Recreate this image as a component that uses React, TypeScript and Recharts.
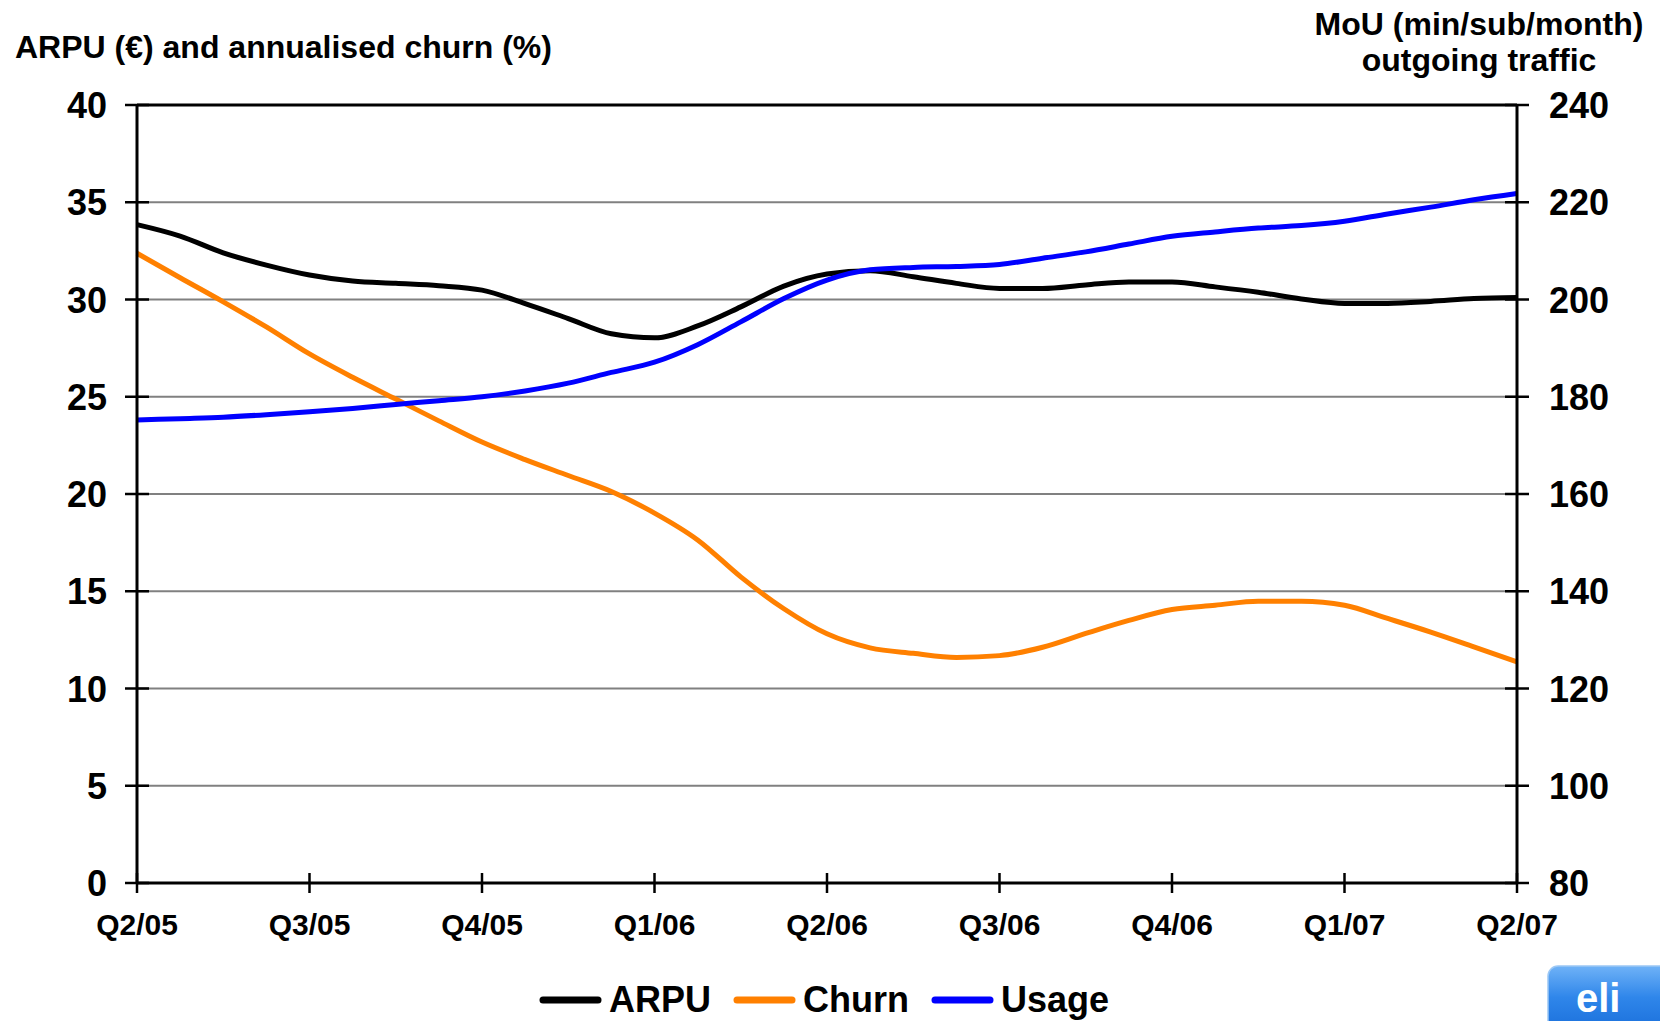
import React from 'react';
import { LineChart, Line, XAxis, YAxis, CartesianGrid, ReferenceLine } from 'recharts';

// Quarter labels on the time axis
const quarters = ['Q2/05', 'Q3/05', 'Q4/05', 'Q1/06', 'Q2/06', 'Q3/06', 'Q4/06', 'Q1/07', 'Q2/07'];

// Four readings per quarter, from Q2/05 up to Q2/07
const arpu = [
  33.85, 33.26, 32.4, 31.77, 31.26, 30.95, 30.83, 30.71, 30.48, 29.79, 29.02, 28.24,
  28.03, 28.64, 29.62, 30.69, 31.31, 31.48, 31.17, 30.83, 30.57, 30.57, 30.75, 30.9,
  30.9, 30.65, 30.37, 30.03, 29.8, 29.8, 29.9, 30.05, 30.1,
];
const churn = [
  32.38, 31.12, 29.88, 28.59, 27.2, 26.0, 24.88, 23.76, 22.67, 21.77, 20.95, 20.13,
  19.02, 17.64, 15.74, 14.1, 12.81, 12.09, 11.81, 11.6, 11.69, 12.12, 12.83, 13.5,
  14.06, 14.28, 14.49, 14.49, 14.28, 13.6, 12.9, 12.14, 11.37,
];
const usage = [
  175.2, 175.5, 175.8, 176.3, 176.9, 177.6, 178.4, 179.2, 180.0, 181.2, 182.8, 185.0,
  187.1, 190.7, 195.4, 200.2, 204.0, 206.1, 206.6, 206.8, 207.2, 208.5, 209.8, 211.4,
  213.0, 213.9, 214.7, 215.2, 216.1, 217.6, 219.0, 220.5, 221.8,
];

const leftTicks = [0, 5, 10, 15, 20, 25, 30, 35, 40];
const rightTicks = [80, 100, 120, 140, 160, 180, 200, 220, 240];

const data = arpu.map((v, i) => ({
  period: i % 4 === 0 ? quarters[i / 4] : `${quarters[Math.floor(i / 4)]} ${i % 4}`,
  arpu: v,
  churn: churn[i],
  usage: usage[i],
}));

const FONT = '"Liberation Sans", Arial, sans-serif';

const LeftTick = (props: any) => {
  const { x, y, payload } = props;
  return (
    <g>
      <line x1={x - 12} x2={x + 12} y1={y} y2={y} stroke="#000" strokeWidth={2.5} />
      <text x={x - 30} y={y} dy={13} textAnchor="end" fontFamily={FONT} fontWeight={700} fontSize={36} fill="#000">
        {payload.value}
      </text>
    </g>
  );
};

const RightTick = (props: any) => {
  const { x, y, payload } = props;
  return (
    <g>
      <line x1={x - 12} x2={x + 12} y1={y} y2={y} stroke="#000" strokeWidth={2.5} />
      <text x={x + 32} y={y} dy={13} textAnchor="start" fontFamily={FONT} fontWeight={700} fontSize={36} fill="#000">
        {payload.value}
      </text>
    </g>
  );
};

const BottomTick = (props: any) => {
  const { x, y, payload } = props;
  const label = String(payload.value).split(' ')[0];
  return (
    <g>
      <line x1={x} x2={x} y1={y - 10} y2={y + 10} stroke="#000" strokeWidth={2.5} />
      <text x={x} y={y + 52} textAnchor="middle" fontFamily={FONT} fontWeight={700} fontSize={30} fill="#000">
        {label}
      </text>
    </g>
  );
};

const legendItems = [
  { name: 'ARPU', color: '#000000', x: 543 },
  { name: 'Churn', color: '#FF8000', x: 737 },
  { name: 'Usage', color: '#0000FF', x: 935 },
];

export default function App() {
  return (
    <div style={{ position: 'absolute', left: 0, top: 0, width: 1660, height: 1021, background: '#fff', overflow: 'hidden' }}>
      <LineChart width={1660} height={1021} data={data} margin={{ top: 105, right: 0, bottom: 0, left: 0 }}>
        <CartesianGrid yAxisId="left" vertical={false} stroke="#808080" strokeWidth={2} />
        <XAxis
          dataKey="period"
          interval={3}
          height={138}
          tick={BottomTick}
          tickLine={false}
          tickSize={0}
          tickMargin={0}
          axisLine={{ stroke: '#000', strokeWidth: 3 }}
        />
        <YAxis
          yAxisId="left"
          domain={[0, 40]}
          ticks={leftTicks}
          interval={0}
          width={137}
          tick={LeftTick}
          tickLine={false}
          tickSize={0}
          tickMargin={0}
          axisLine={{ stroke: '#000', strokeWidth: 3 }}
        />
        <YAxis
          yAxisId="right"
          orientation="right"
          domain={[80, 240]}
          ticks={rightTicks}
          interval={0}
          width={143}
          tick={RightTick}
          tickLine={false}
          tickSize={0}
          tickMargin={0}
          axisLine={{ stroke: '#000', strokeWidth: 3 }}
        />
        <ReferenceLine yAxisId="left" y={40} stroke="#000" strokeWidth={3} />
        <Line yAxisId="left" type="monotone" dataKey="arpu" stroke="#000000" strokeWidth={5} dot={false} activeDot={false} isAnimationActive={false} />
        <Line yAxisId="left" type="monotone" dataKey="churn" stroke="#FF8000" strokeWidth={5} dot={false} activeDot={false} isAnimationActive={false} />
        <Line yAxisId="right" type="monotone" dataKey="usage" stroke="#0000FF" strokeWidth={5} dot={false} activeDot={false} isAnimationActive={false} />
      </LineChart>

      <svg width={1660} height={1021} style={{ position: 'absolute', left: 0, top: 0, pointerEvents: 'none' }}>
        <defs>
          <linearGradient id="badge" x1="0" y1="0" x2="0" y2="1">
            <stop offset="0%" stopColor="#6fb2f7" />
            <stop offset="35%" stopColor="#2f86ea" />
            <stop offset="100%" stopColor="#0b5fd0" />
          </linearGradient>
        </defs>
        <text x={15} y={58} fontFamily={FONT} fontWeight={700} fontSize={32} fill="#000">
          ARPU (€) and annualised churn (%)
        </text>
        <text x={1479} y={35} textAnchor="middle" fontFamily={FONT} fontWeight={700} fontSize={32} fill="#000">
          MoU (min/sub/month)
        </text>
        <text x={1479} y={71} textAnchor="middle" fontFamily={FONT} fontWeight={700} fontSize={32} fill="#000">
          outgoing traffic
        </text>

        {legendItems.map((item) => (
          <g key={item.name}>
            <line x1={item.x} x2={item.x + 55} y1={1000} y2={1000} stroke={item.color} strokeWidth={7} strokeLinecap="round" />
            <text x={item.x + 66} y={1012} fontFamily={FONT} fontWeight={700} fontSize={36} fill="#000">
              {item.name}
            </text>
          </g>
        ))}

        <rect x={1548} y={966} width={150} height={90} rx={10} fill="url(#badge)" stroke="#9cc8f5" strokeWidth={1.5} />
        <text x={1576} y={1012} fontFamily={FONT} fontWeight={700} fontSize={40} fill="#fff">
          eli
        </text>
      </svg>
    </div>
  );
}
